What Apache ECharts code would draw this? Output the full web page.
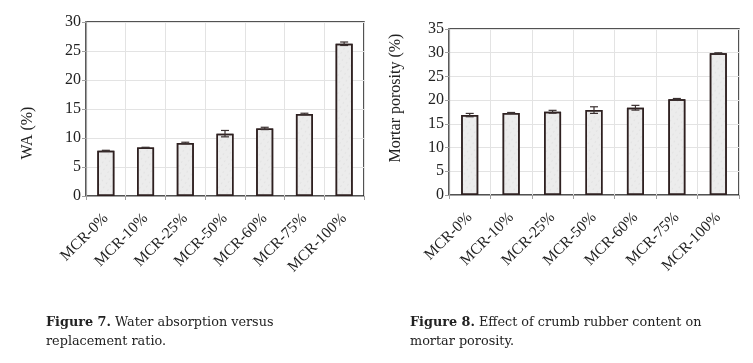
<!DOCTYPE html>
<html>
<head>
<meta charset="utf-8">
<script src="https://cdn.jsdelivr.net/npm/echarts@6/dist/echarts.min.js"></script>
<style>html,body{margin:0;padding:0;background:#fff}#c{width:753px;height:363px}</style>
</head>
<body>
<div id="c"></div>
<script>
const categories = ['MCR-0%', 'MCR-10%', 'MCR-25%', 'MCR-50%', 'MCR-60%', 'MCR-75%', 'MCR-100%'];
const waValues = [7.8, 8.35, 9.15, 10.75, 11.65, 14.15, 26.25];
const waErrors = [0.08, 0.05, 0.12, 0.55, 0.2, 0.12, 0.3];
const porosityValues = [16.85, 17.3, 17.55, 17.9, 18.4, 20.2, 29.9];
const porosityErrors = [0.35, 0.1, 0.3, 0.7, 0.5, 0.15, 0.08];
const waTicks = [0, 5, 10, 15, 20, 25, 30];
const porosityTicks = [0, 5, 10, 15, 20, 25, 30, 35];

const serif = 'Liberation Serif';
const capFont = 'DejaVu Serif';
const chart = echarts.init(document.getElementById('c'));

function errorSeries(idx, vals, errs) {
  return {
    type: 'custom', xAxisIndex: idx, yAxisIndex: idx, z: 5,
    data: vals.map((v, i) => [i, v - errs[i], v + errs[i]]),
    renderItem: function (params, api) {
      const lo = api.coord([api.value(0), api.value(1)]);
      const hi = api.coord([api.value(0), api.value(2)]);
      const w = 4;
      const st = { stroke: '#3a3030', lineWidth: 1.2 };
      return { type: 'group', children: [
        { type: 'line', shape: { x1: lo[0], y1: lo[1], x2: hi[0], y2: hi[1] }, style: st },
        { type: 'line', shape: { x1: lo[0] - w, y1: lo[1], x2: lo[0] + w, y2: lo[1] }, style: st },
        { type: 'line', shape: { x1: hi[0] - w, y1: hi[1], x2: hi[0] + w, y2: hi[1] }, style: st }
      ]};
    }
  };
}

function xAx(gi) {
  return {
    type: 'category', gridIndex: gi, data: categories,
    axisLine: { lineStyle: { color: '#a0a0a0', width: 1.2 } },
    axisTick: { show: true, length: 4, lineStyle: { color: '#a0a0a0' } },
    splitLine: { show: true, lineStyle: { color: '#e3e3e3' } },
    axisLabel: { rotate: 45, fontFamily: serif, fontSize: 15.5, color: '#222', margin: 20 }
  };
}
function yAx(gi, ticks) {
  return {
    type: 'value', gridIndex: gi, min: ticks[0], max: ticks[ticks.length - 1], interval: ticks[1] - ticks[0],
    axisLine: { show: true, lineStyle: { color: '#a0a0a0', width: 1.2 } },
    axisTick: { show: true, length: 4, lineStyle: { color: '#a0a0a0' } },
    splitLine: { show: true, lineStyle: { color: '#e3e3e3' } },
    axisLabel: { fontFamily: serif, fontSize: 16, color: '#222', margin: 5 }
  };
}
const barStyle = {
  color: '#ececec', borderColor: '#2e2020', borderWidth: 1.5,
  decal: { symbol: 'circle', symbolSize: 0.6, color: 'rgba(150,150,150,0.25)', dashArrayX: [3, 2], dashArrayY: [2, 3], rotation: 0.6 }
};
const capStyle = {
  fontFamily: capFont, fontSize: 12.8, color: '#222', fontWeight: 'normal', lineHeight: 19,
  rich: { b: { fontFamily: capFont, fontSize: 12.8, fontWeight: 'bold', color: '#222', lineHeight: 19 } }
};

chart.setOption({
  animation: false,
  backgroundColor: '#fff',
  aria: { enabled: false, decal: { show: false } },
  grid: [
    { left: 86, right: 389, top: 22, bottom: 167, show: true, borderColor: '#1a1a1a', borderWidth: 1.5 },
    { left: 449, right: 14, top: 29, bottom: 168, show: true, borderColor: '#1a1a1a', borderWidth: 1.5 }
  ],
  xAxis: [xAx(0), xAx(1)],
  yAxis: [yAx(0, waTicks), yAx(1, porosityTicks)],
  title: [
    { left: 46, top: 313, padding: 0, text: '{b|Figure 7.} Water absorption versus\nreplacement ratio.', textStyle: capStyle },
    { left: 410, top: 313, padding: 0, text: '{b|Figure 8.} Effect of crumb rubber content on\nmortar porosity.', textStyle: capStyle }
  ],
  graphic: [
    { type: 'text', x: 28, y: 133, rotation: Math.PI / 2, style: { text: 'WA (%)', font: '16px "Liberation Serif"', fill: '#222', align: 'center', verticalAlign: 'middle' } },
    { type: 'text', x: 396, y: 98, rotation: Math.PI / 2, style: { text: 'Mortar porosity (%)', font: '16px "Liberation Serif"', fill: '#222', align: 'center', verticalAlign: 'middle' } }
  ],
  series: [
    { type: 'bar', xAxisIndex: 0, yAxisIndex: 0, data: waValues, barWidth: 17, itemStyle: barStyle },
    errorSeries(0, waValues, waErrors),
    { type: 'bar', xAxisIndex: 1, yAxisIndex: 1, data: porosityValues, barWidth: 17, itemStyle: barStyle },
    errorSeries(1, porosityValues, porosityErrors)
  ]
});
</script>
</body>
</html>
